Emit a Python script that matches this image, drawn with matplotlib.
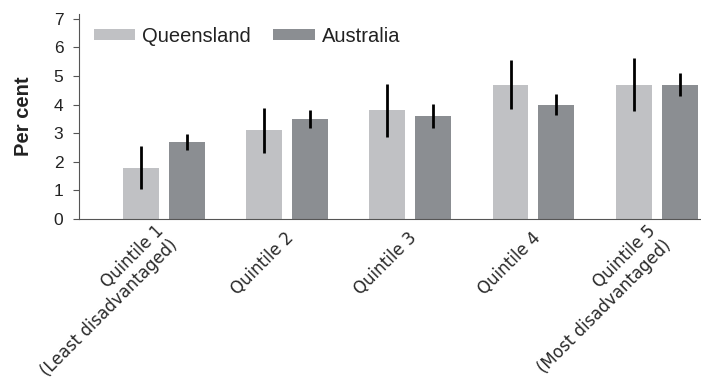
import numpy as np
import matplotlib.pyplot as plt
from matplotlib.transforms import ScaledTranslation

plt.rcParams['font.family'] = ['Liberation Sans', 'DejaVu Sans']

categories = ['Quintile 1\n(Least disadvantaged)', 'Quintile 2', 'Quintile 3',
              'Quintile 4', 'Quintile 5\n(Most disadvantaged)']
qld = [1.8, 3.1, 3.8, 4.7, 4.7]
qld_err = [0.76, 0.78, 0.92, 0.87, 0.92]
aus = [2.7, 3.5, 3.6, 4.0, 4.7]
aus_err = [0.28, 0.32, 0.43, 0.38, 0.41]

light = '#c0c1c4'
dark = '#8b8e92'

fig = plt.figure(figsize=(7.01, 3.81), dpi=100)
ax = fig.add_axes([79/701, 1 - 219/381, 1 - 79/701, 205/381])

x = np.arange(len(categories))
w = 0.292
off = 0.1866
ekw = dict(ecolor='black', elinewidth=2.0, capsize=0)
ax.bar(x - off, qld, w, color=light, yerr=qld_err, error_kw=ekw, label='Queensland')
ax.bar(x + off, aus, w, color=dark, yerr=aus_err, error_kw=ekw, label='Australia')

ax.set_xlim(-0.69, 4.36)
ax.set_ylim(0, 7.17)
ax.set_yticks(range(8))
ax.tick_params(axis='y', labelsize=12.5, length=4.3, color='#555555', labelcolor='#222222', pad=7)
ax.tick_params(axis='x', length=0, pad=8)
ax.set_xticks(x)
ax.set_xticklabels(categories, rotation=45, ha='right', va='center', rotation_mode='anchor',
                   multialignment='right', fontsize=12, family='DejaVu Sans', color='#2a2a2a')
# nudge the rotated labels so their ends sit under the bar pairs
shift = ScaledTranslation(4/100, -5/100, fig.dpi_scale_trans)
for lab in ax.get_xticklabels():
    lab.set_transform(lab.get_transform() + shift)
for s in ['top', 'right']:
    ax.spines[s].set_visible(False)
ax.spines['left'].set_color('#555555')
ax.spines['bottom'].set_color('#555555')
ax.set_ylabel('Per cent', fontsize=14.5, fontweight='bold', labelpad=15, color='#222222')

ax.legend(loc='center left', bbox_to_anchor=(94/701, 1 - 36/381), bbox_transform=fig.transFigure,
          ncol=2, frameon=False, fontsize=14.5, handlelength=2.05, handleheight=0.45,
          handletextpad=0.35, columnspacing=1.1, borderpad=0, borderaxespad=0,
          labelcolor='#222222')

fig.savefig('out.png', dpi=100)
